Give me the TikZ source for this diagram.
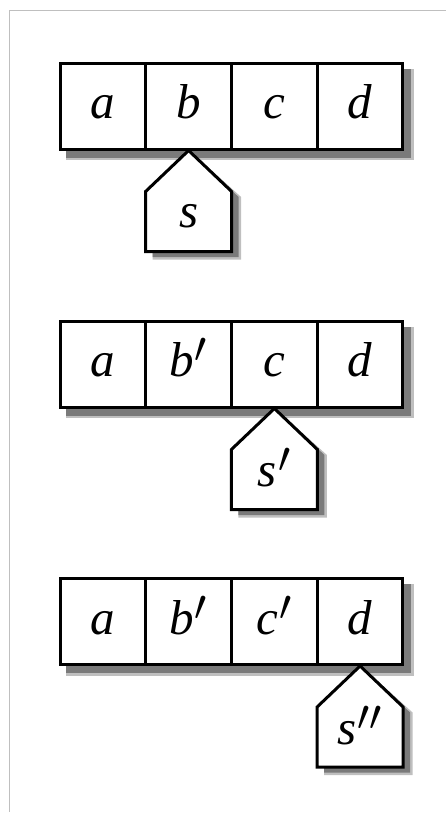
\documentclass[tikz,border=0pt]{standalone}
\usepackage{fontspec}
\setmainfont{Liberation Serif}
\usetikzlibrary{calc}
\tikzset{
  cell/.style={draw=black, line width=3pt, fill=white, minimum width=85.75pt,
    minimum height=86pt, inner sep=0pt, text height=25pt, text depth=0pt,
    font=\fontsize{49}{52}\selectfont\itshape, anchor=center},
  plabel/.style={inner sep=0pt, text height=25pt, text depth=0pt,
    font=\fontsize{49}{52}\selectfont\itshape, anchor=center},
  pent/.style={draw=black, line width=3pt, fill=white, line join=miter},
  shadowsoft/.style={fill=black!25},
  shadowhard/.style={fill=black!52},
  frame/.style={draw=black!25, line width=1pt}
}
\newcommand{\pr}{\kern1pt\raisebox{-2pt}{\scalebox{1.75}{$'$}}}
\newcommand{\ppr}{\kern1pt\raisebox{-2pt}{\scalebox{1.75}{$''$}}}
\newcommand{\rowshadow}[2]{%
  \fill[shadowsoft] ([shift={(7,7)}]#1.north west) rectangle ([shift={(9.5,9.5)}]#2.south east);
  \fill[shadowhard] ([shift={(7,7)}]#1.north west) rectangle ([shift={(7,7)}]#2.south east);
}
\newcommand{\pentpath}[1]{%
  (#1) -- ++(43,41) -- ++(0,60) -- ++(-86,0) -- ++(0,-60) -- cycle}
\newcommand{\pentshadow}[1]{%
  \fill[shadowsoft] ($(#1)+(7,7)$) -- ++(45.5,41) -- ++(0,62.5) -- ++(-88.5,0) -- ++(0,-62.5) -- cycle;
  \fill[shadowhard] \pentpath{$(#1)+(7,7)$};
}
\begin{document}
\begin{tikzpicture}[x=1pt,y=-1pt]
\useasboundingbox (0,0) rectangle (446,814);
\draw[frame] (446,10) -- (9.5,10) -- (9.5,812);

% ---------- row 1 ----------
\coordinate (r1a) at (102.9,106);
\coordinate (r1b) at (188.6,106);
\coordinate (r1c) at (274.4,106);
\coordinate (r1d) at (360.1,106);
\coordinate (p1) at (188.6,149);
\pentshadow{p1}
\node[cell, draw=none, fill=none] (a1) at (r1a) {};
\node[cell, draw=none, fill=none] (d1) at (r1d) {};
\rowshadow{a1}{d1}
\node[cell] (a1) at (r1a) {a};
\node[cell] (b1) at (r1b) {b};
\node[cell] (c1) at (r1c) {c};
\node[cell] (d1) at (r1d) {d};
\draw[pent] \pentpath{b1.south};
\node[plabel] (s1) at ($(b1.south)+(0,64)$) {s};

% ---------- row 2 ----------
\coordinate (r2a) at (102.9,364);
\coordinate (r2b) at (188.6,364);
\coordinate (r2c) at (274.4,364);
\coordinate (r2d) at (360.1,364);
\coordinate (p2) at (274.4,407);
\pentshadow{p2}
\node[cell, draw=none, fill=none] (a2) at (r2a) {};
\node[cell, draw=none, fill=none] (d2) at (r2d) {};
\rowshadow{a2}{d2}
\node[cell] (a2) at (r2a) {a};
\node[cell] (b2) at (r2b) {b\pr};
\node[cell] (c2) at (r2c) {c};
\node[cell] (d2) at (r2d) {d};
\draw[pent] \pentpath{c2.south};
\node[plabel] (s2) at ($(c2.south)+(0,65)$) {s\pr};

% ---------- row 3 ----------
\coordinate (r3a) at (102.9,621.5);
\coordinate (r3b) at (188.6,621.5);
\coordinate (r3c) at (274.4,621.5);
\coordinate (r3d) at (360.1,621.5);
\coordinate (p3) at (360.1,664.5);
\pentshadow{p3}
\node[cell, draw=none, fill=none] (a3) at (r3a) {};
\node[cell, draw=none, fill=none] (d3) at (r3d) {};
\rowshadow{a3}{d3}
\node[cell] (a3) at (r3a) {a};
\node[cell] (b3) at (r3b) {b\pr};
\node[cell] (c3) at (r3c) {c\pr};
\node[cell] (d3) at (r3d) {d};
\draw[pent] \pentpath{d3.south};
\node[plabel] (s3) at ($(d3.south)+(0,66)$) {s\ppr};
\end{tikzpicture}
\end{document}
